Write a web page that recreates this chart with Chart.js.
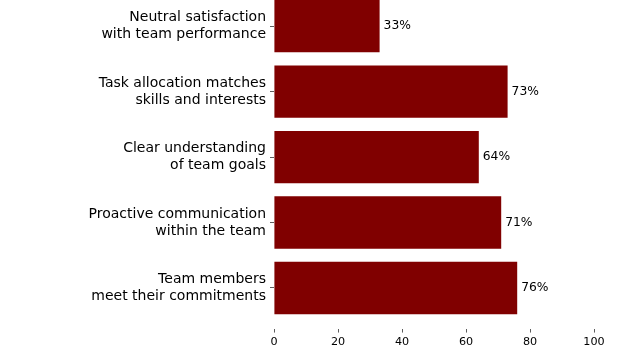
<!DOCTYPE html>
<html>
<head>
<meta charset="utf-8">
<script src="https://cdn.jsdelivr.net/npm/chart.js@4.4.1/dist/chart.umd.min.js"></script>
<style>
  html, body { margin: 0; padding: 0; background: #fff; }
  #wrap { width: 617px; height: 352px; }
</style>
</head>
<body>
<div id="wrap"><canvas id="grafico"></canvas></div>
<script>
// categorias de abajo hacia arriba
const categorias = [
    ['Team members', 'meet their commitments'],
    ['Proactive communication', 'within the team'],
    ['Clear understanding', 'of team goals'],
    ['Task allocation matches', 'skills and interests'],
    ['Neutral satisfaction', 'with team performance']
];
const porcentajes = [76, 71, 64, 73, 33];
const ticksX = [0, 20, 40, 60, 80, 100];

const colorBarra = '#800000';
const fuente = 'DejaVu Sans';

// etiquetas de porcentaje al final de cada barra
const etiquetasValor = {
    id: 'etiquetasValor',
    afterDatasetsDraw(chart) {
        const ctx = chart.ctx;
        const meta = chart.getDatasetMeta(0);
        ctx.save();
        ctx.font = '12.3px "' + fuente + '"';
        ctx.fillStyle = '#000';
        ctx.textAlign = 'left';
        ctx.textBaseline = 'middle';
        meta.data.forEach((barra, i) => {
            ctx.fillText(porcentajes[i] + '%', barra.x + 4, barra.y);
        });
        ctx.restore();
    }
};

const datos = porcentajes.map((v, i) => ({ x: v, y: i }));

new Chart(document.getElementById('grafico'), {
    type: 'bar',
    data: {
        datasets: [{
            data: datos,
            backgroundColor: colorBarra,
            borderWidth: 0,
            categoryPercentage: 1,
            barPercentage: 0.8
        }]
    },
    options: {
        indexAxis: 'y',
        responsive: true,
        maintainAspectRatio: false,
        animation: false,
        layout: { padding: { left: 0, right: 23, top: 0, bottom: 0 } },
        plugins: {
            legend: { display: false },
            tooltip: { enabled: false }
        },
        scales: {
            x: {
                type: 'linear',
                min: 0,
                max: 100,
                border: { display: false },
                grid: { drawOnChartArea: false, drawTicks: true, tickLength: 4, color: '#333', lineWidth: 0.8 },
                afterBuildTicks: s => { s.ticks = ticksX.map(v => ({ value: v })); },
                ticks: { color: '#000', padding: 3, font: { family: fuente, size: 11.2 } }
            },
            y: {
                type: 'linear',
                min: -0.62,
                max: 4.40,
                offset: false,
                border: { display: false },
                grid: { offset: false, drawOnChartArea: false, drawTicks: true, tickLength: 4, color: '#333', lineWidth: 0.8 },
                afterBuildTicks: s => { s.ticks = categorias.map((_, i) => ({ value: i })); },
                afterFit: s => { s.width = 274; s.paddingTop = 0; s.paddingBottom = 0; },
                ticks: {
                    color: '#000',
                    padding: 4,
                    font: { family: fuente, size: 14, lineHeight: 1.2 },
                    callback: v => categorias[v]
                }
            }
        }
    },
    plugins: [etiquetasValor]
});
</script>
</body>
</html>
